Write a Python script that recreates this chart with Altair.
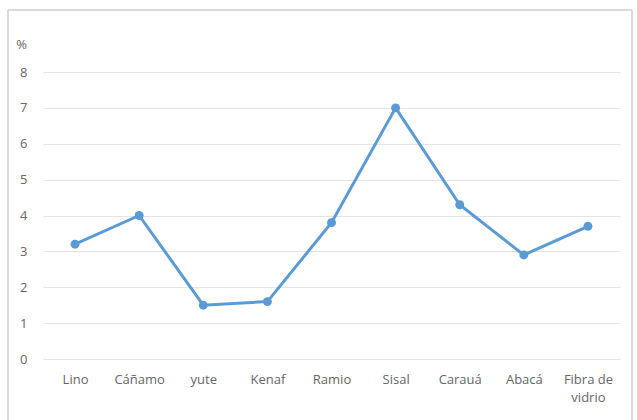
import altair as alt
import pandas as pd

# Fibre types and their values (%)
fibras = ["Lino", "Cáñamo", "yute", "Kenaf", "Ramio", "Sisal", "Carauá", "Abacá", "Fibra de vidrio"]
valores = [3.2, 4.0, 1.5, 1.6, 3.8, 7.0, 4.3, 2.9, 3.7]

df = pd.DataFrame({"fibra": fibras, "valor": valores})

FONT = "Open Sans"
GRAY = "#666666"
BLUE = "#5B9BD5"

x = alt.X(
    "fibra:N",
    sort=fibras,
    scale=alt.Scale(paddingInner=0, paddingOuter=0.5),
    axis=alt.Axis(
        title=None,
        labelAngle=0,
        domain=False,
        ticks=False,
        labelPadding=14,
        labelFont=FONT,
        labelFontSize=13,
        labelColor=GRAY,
        labelLineHeight=18,
        labelExpr="datum.label == 'Fibra de vidrio' ? ['Fibra de', 'vidrio'] : datum.label",
    ),
)
y = alt.Y(
    "valor:Q",
    scale=alt.Scale(domain=[0, 8]),
    axis=alt.Axis(
        title="%",
        titleAngle=0,
        titleX=-22,
        titleY=-28,
        titleAlign="center",
        titleBaseline="middle",
        titleFont=FONT,
        titleFontSize=13,
        titleFontWeight="normal",
        titleColor=GRAY,
        values=list(range(0, 9)),
        domain=False,
        ticks=False,
        labelPadding=16,
        labelFont=FONT,
        labelFontSize=13,
        labelColor=GRAY,
        gridColor="#e3e3e3",
        gridWidth=1,
    ),
)

line = alt.Chart(df).mark_line(
    color=BLUE, strokeWidth=3, point=alt.OverlayMarkDef(color=BLUE, size=80, filled=True, opacity=1)
).encode(x=x, y=y)

# outer chart frame
frame = alt.Chart(df).mark_rect(fill=None, stroke="#d9d9d9", strokeWidth=1).encode(
    x=alt.value(-35), x2=alt.value(589), y=alt.value(-62), y2=alt.value(360)
)

chart = (
    alt.layer(frame, line)
    .properties(
        width=577,
        height=287,
        padding={"left": 43, "top": 72, "right": 17, "bottom": 61},
        autosize=alt.AutoSizeParams(type="none"),
        background="white",
    )
    .configure_view(stroke=None)
)

chart.save("out.html", embed_options={"renderer": "svg", "actions": False})
